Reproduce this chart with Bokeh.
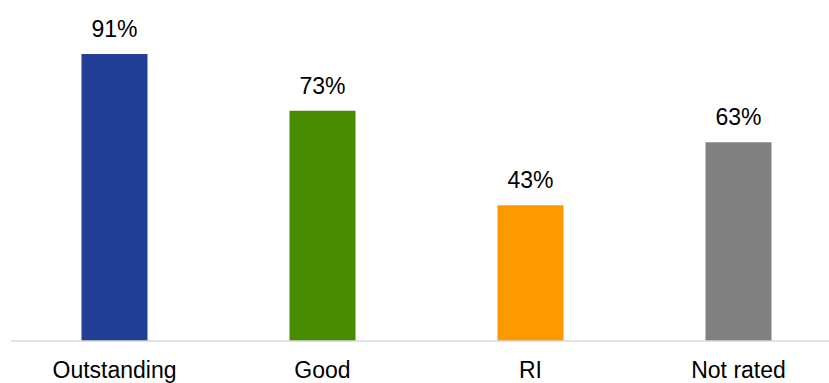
from bokeh.plotting import figure
from bokeh.models import ColumnDataSource, Range1d, Span
from bokeh.core.properties import value
from bokeh.embed import file_html
from bokeh.resources import INLINE

# Share of schools by inspection rating
categories = ["Outstanding", "Good", "RI", "Not rated"]
shares = [91, 73, 43, 63]
colors = ["#213F97", "#468B00", "#FF9900", "#808080"]

W, H = 829, 383
LEFT = 10
PX_PER_UNIT = 3.155      # pixels per percentage point
BASE_Y = 340.5           # pixel row of the zero line
SLOT = 208               # pixels per category slot
LABEL_GAP = 25.0         # pixels from bar top to value-label baseline
CAT_DROP = 28.5          # pixels from zero line down to category-label baseline

xs = list(range(1, len(categories) + 1))
labels = [f"{v}%" for v in shares]

src = ColumnDataSource(dict(x=xs, top=shares, color=colors,
                            label=labels, label_y=[v + LABEL_GAP / PX_PER_UNIT for v in shares],
                            cat=categories, cat_y=[-CAT_DROP / PX_PER_UNIT] * len(xs)))

p = figure(width=W, height=H, output_backend="svg", toolbar_location=None,
           min_border=0, min_border_left=LEFT, outline_line_color=None,
           x_range=Range1d(0.5, 0.5 + (W - LEFT) / SLOT),
           y_range=Range1d(-(H - BASE_Y) / PX_PER_UNIT, BASE_Y / PX_PER_UNIT))
p.axis.visible = False
p.grid.visible = False
p.background_fill_color = "white"
p.border_fill_color = "white"

p.vbar(x="x", top="top", bottom=0, width=66 / SLOT, fill_color="color",
       line_color=None, source=src)

p.add_layout(Span(location=0, dimension="width", line_color="#D9D9D9", line_width=1.5))

p.text(x="x", y="label_y", text="label", source=src, text_align="center",
       text_baseline="alphabetic", text_font=value("Liberation Sans"),
       text_font_size="23px", text_color="#000000")
p.text(x="x", y="cat_y", text="cat", source=src, text_align="center",
       text_baseline="alphabetic", text_font=value("Liberation Sans"),
       text_font_size="23px", text_color="#000000")

open("out.html", "w").write(file_html(p, INLINE))
